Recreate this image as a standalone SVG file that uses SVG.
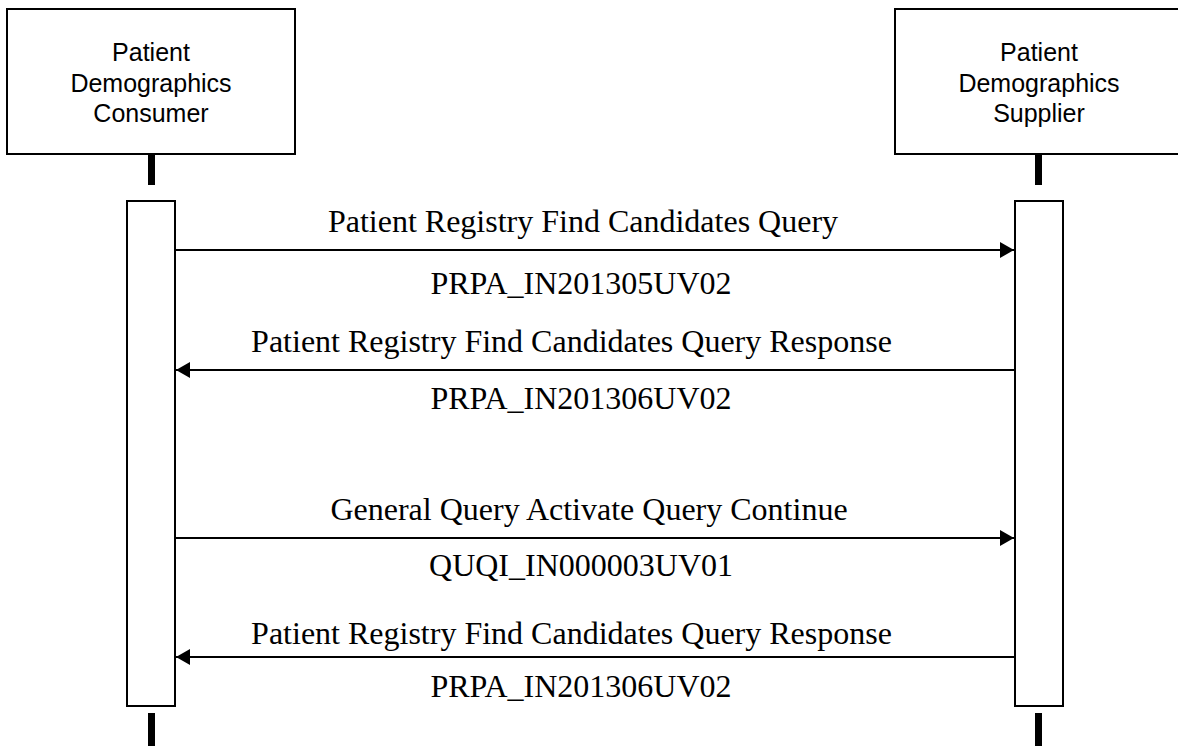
<svg xmlns="http://www.w3.org/2000/svg" width="1178" height="746" viewBox="0 0 1178 746">
<style>
.box{fill:#fff;stroke:#000;stroke-width:2}
.act{fill:#fff;stroke:#000;stroke-width:2}
.stub{fill:#000}
.hdr{font-family:"Liberation Sans",Arial,sans-serif;font-size:25px;fill:#000;text-anchor:middle}
.lbl{font-family:"Liberation Serif","Times New Roman",serif;font-size:32px;fill:#000;text-anchor:middle}
.msg{stroke:#000;stroke-width:2;fill:none}
</style>
<defs>
<marker id="ah" viewBox="0 0 14 16" refX="14" refY="8" markerWidth="14" markerHeight="16" markerUnits="userSpaceOnUse" orient="auto">
<path d="M0,0 L14,8 L0,16 Z" fill="#000"/>
</marker>
</defs>
<rect width="1178" height="746" fill="#fff"/>
<g id="consumer">
<rect class="box" x="7" y="9" width="288" height="145"/>
<text class="hdr" x="151" y="61">Patient</text>
<text class="hdr" x="151" y="91.5">Demographics</text>
<text class="hdr" x="151" y="122">Consumer</text>
<rect class="stub" x="148" y="154" width="7" height="31"/>
<rect class="act" x="127" y="201" width="48" height="505"/>
<rect class="stub" x="148" y="713" width="7" height="33"/>
</g>
<g id="supplier">
<rect class="box" x="895" y="9" width="290" height="145"/>
<text class="hdr" x="1039" y="61">Patient</text>
<text class="hdr" x="1039" y="91.5">Demographics</text>
<text class="hdr" x="1039" y="122">Supplier</text>
<rect class="stub" x="1035" y="154" width="7" height="31"/>
<rect class="act" x="1015" y="201" width="48" height="505"/>
<rect class="stub" x="1035" y="713" width="7" height="33"/>
</g>
<g id="connectors">
<line class="msg" x1="175" y1="250" x2="1014" y2="250" marker-end="url(#ah)"/>
<line class="msg" x1="1015" y1="370" x2="176" y2="370" marker-end="url(#ah)"/>
<line class="msg" x1="175" y1="538" x2="1014" y2="538" marker-end="url(#ah)"/>
<line class="msg" x1="1015" y1="657" x2="176" y2="657" marker-end="url(#ah)"/>
</g>
<g id="labels">
<text class="lbl" x="583" y="232">Patient Registry Find Candidates Query</text>
<text class="lbl" x="581" y="294">PRPA_IN201305UV02</text>
<text class="lbl" x="571.5" y="352">Patient Registry Find Candidates Query Response</text>
<text class="lbl" x="581" y="409">PRPA_IN201306UV02</text>
<text class="lbl" x="589" y="520">General Query Activate Query Continue</text>
<text class="lbl" x="581" y="576">QUQI_IN000003UV01</text>
<text class="lbl" x="571.5" y="644">Patient Registry Find Candidates Query Response</text>
<text class="lbl" x="581" y="697">PRPA_IN201306UV02</text>
</g>
</svg>
